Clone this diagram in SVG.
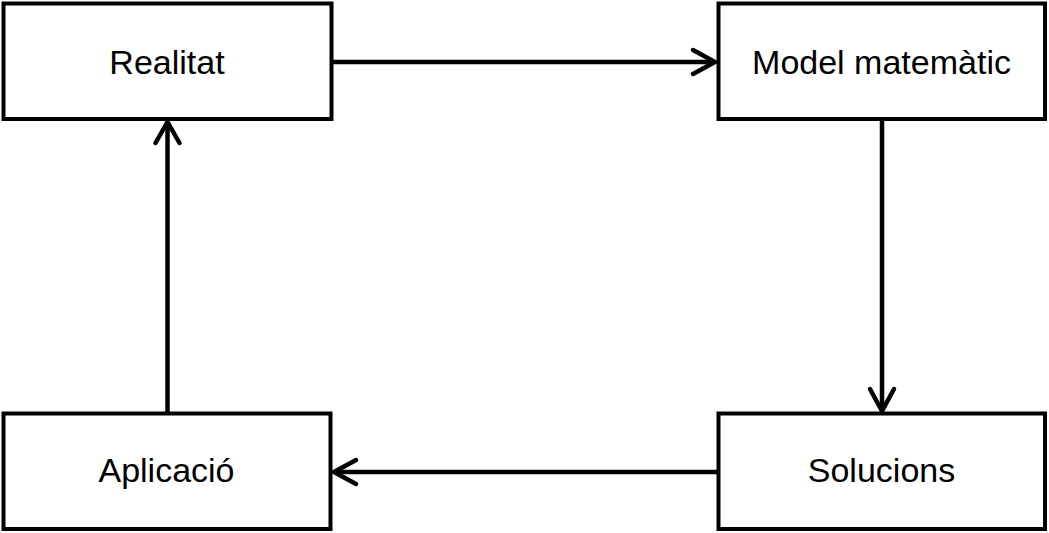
<svg xmlns="http://www.w3.org/2000/svg" width="1049" height="533" viewBox="0 0 1049 533">
<style>
.box{fill:#fff;stroke:#000;stroke-width:4;stroke-linejoin:miter}
.lbl{font-family:"Liberation Sans",Arial,sans-serif;font-size:34px;fill:#000;text-anchor:middle}
.con{fill:none;stroke:#000;stroke-width:4.5;stroke-linecap:butt}
.head{fill:none;stroke:#000;stroke-width:4.5;stroke-linecap:round;stroke-linejoin:miter}
</style>
<rect width="1049" height="533" fill="#fff"/>
<g id="connectors">
<path class="con" d="M331.5 62 H714"/>
<path class="head" d="M693 50 L715 62 L693 74"/>
<path class="con" d="M882 119 V409"/>
<path class="head" d="M870 389 L882 411 L894 389"/>
<path class="con" d="M718.5 472 H336"/>
<path class="head" d="M356 460 L334 472 L356 484"/>
<path class="con" d="M167.5 413.5 V124"/>
<path class="head" d="M155.5 143 L167.5 122 L179.5 143"/>
</g>
<g id="node-realitat">
<rect class="box" x="3.5" y="3.5" width="328" height="115.5"/>
<text class="lbl" x="167" y="74">Realitat</text>
</g>
<g id="node-model">
<rect class="box" x="718.5" y="3.5" width="326.5" height="115.5"/>
<text class="lbl" x="881.5" y="74">Model matemàtic</text>
</g>
<g id="node-solucions">
<rect class="box" x="718.5" y="413.5" width="326.5" height="115.5"/>
<text class="lbl" x="881.5" y="482">Solucions</text>
</g>
<g id="node-aplicacio">
<rect class="box" x="3.5" y="413.5" width="327" height="115.5"/>
<text class="lbl" x="166.5" y="482">Aplicació</text>
</g>
</svg>
